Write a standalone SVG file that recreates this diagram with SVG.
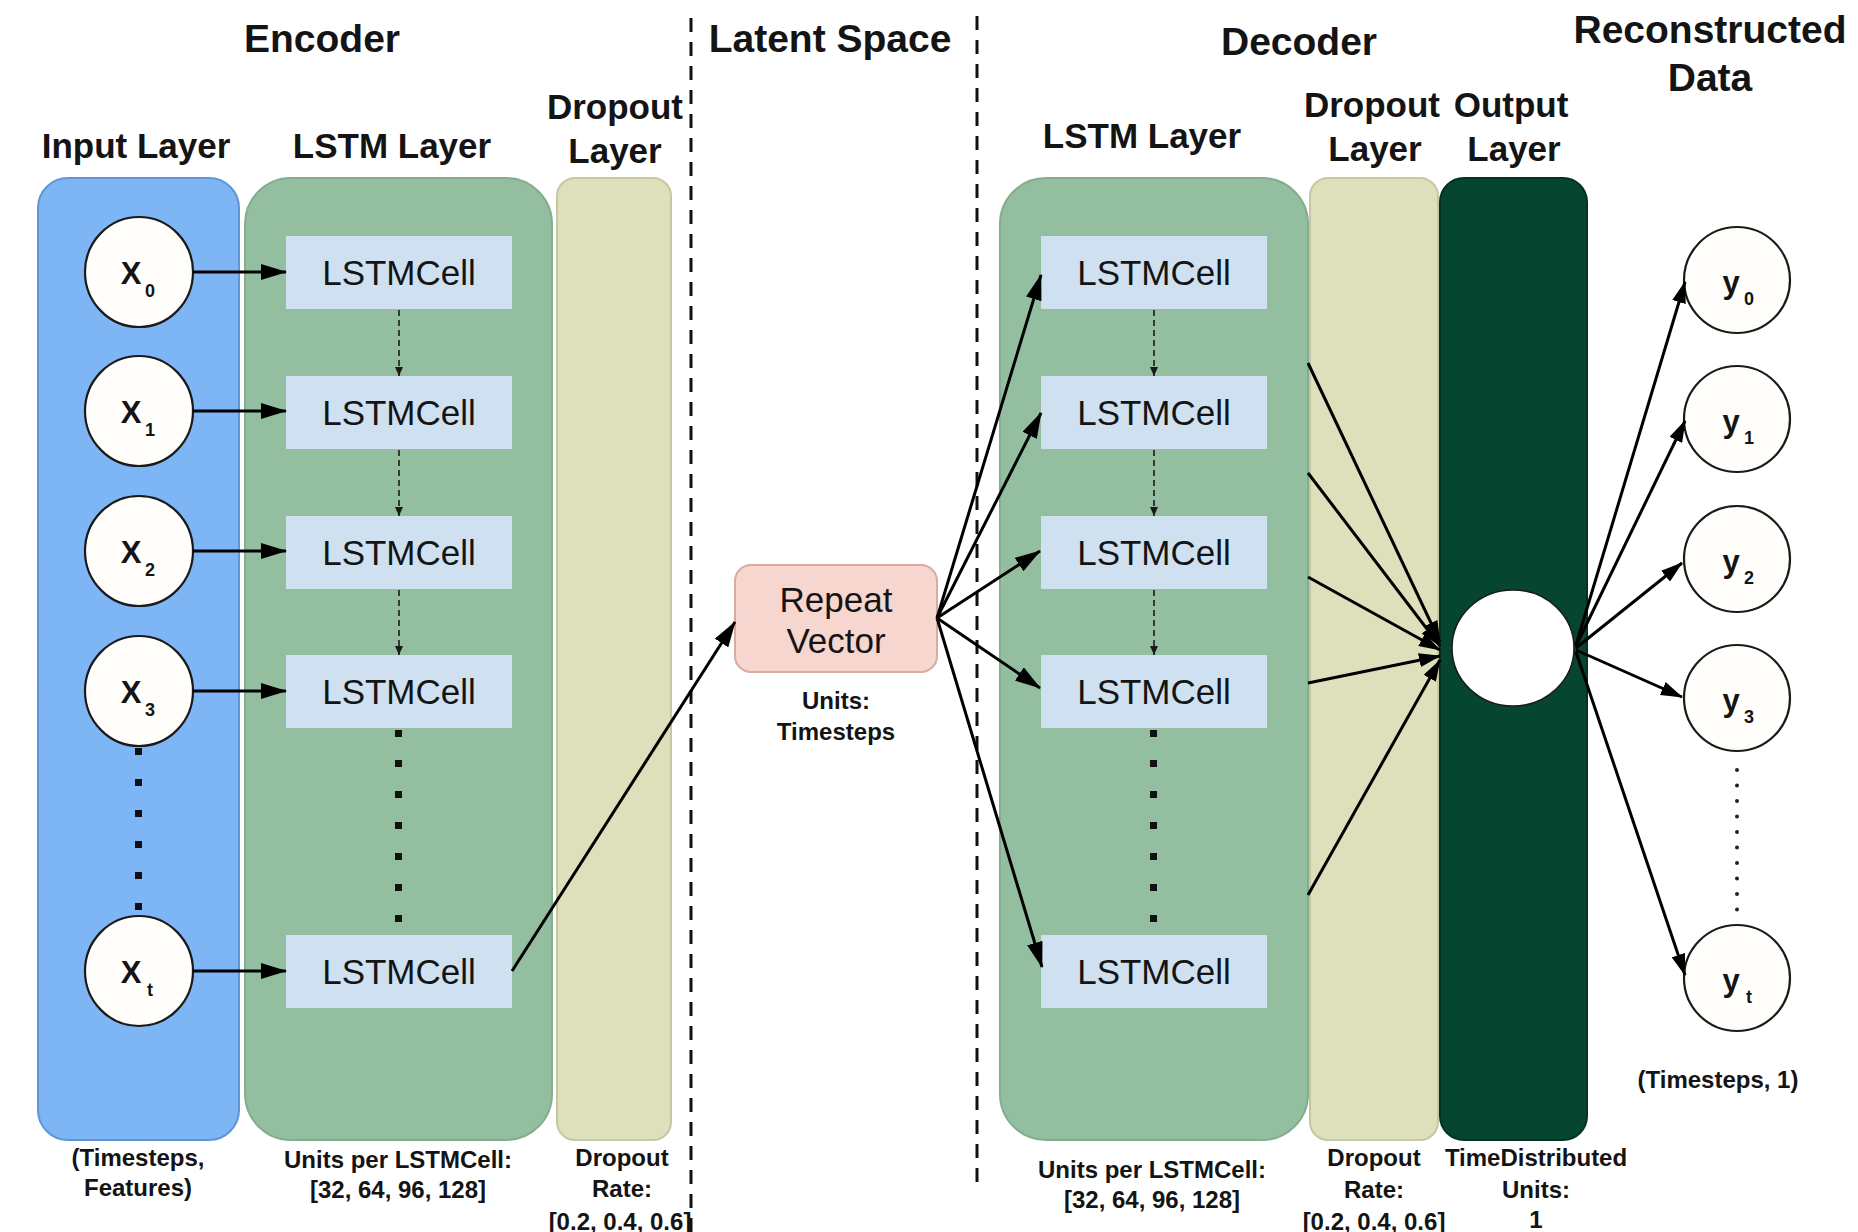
<svg xmlns="http://www.w3.org/2000/svg" width="1858" height="1232" viewBox="0 0 1858 1232">
<style>
.t{font-family:"Liberation Sans",Arial,Helvetica,sans-serif;fill:#141414;text-anchor:middle}
.title{font-size:39px;font-weight:bold}
.lbl{font-size:35px;font-weight:bold}
.cap{font-size:24px;font-weight:bold}
.celltxt{font-size:35px}
.cell{fill:#cfe1f1}
.node{fill:#fffefa;stroke:#1a1a1a;stroke-width:2.2}
.xl{font-size:31px;font-weight:bold}
.sub{font-size:18px;font-weight:bold}
.arrow{stroke:#000;stroke-width:3;fill:none}
.dash{stroke:#1a1a1a;stroke-width:1.6;stroke-dasharray:6 4;fill:none}
.sep{stroke:#111;stroke-width:3;stroke-dasharray:14 10;fill:none}
.dot{fill:#111}
</style>
<defs>
<marker id="ah" viewBox="0 0 26 16" refX="25" refY="8" markerWidth="26" markerHeight="16" markerUnits="userSpaceOnUse" orient="auto"><path d="M0,0 L26,8 L0,16 z" fill="#000"/></marker>
<marker id="ahm" viewBox="0 0 22 14" refX="21" refY="7" markerWidth="22" markerHeight="14" markerUnits="userSpaceOnUse" orient="auto"><path d="M0,0 L22,7 L0,14 z" fill="#000"/></marker>
<marker id="ahs" viewBox="0 0 9 8" refX="9" refY="4" markerWidth="9" markerHeight="8" markerUnits="userSpaceOnUse" orient="auto"><path d="M0,0 L9,4 L0,8 z" fill="#1a1a1a"/></marker>
</defs>
<rect width="1858" height="1232" fill="#ffffff"/>

<g id="titles">
<text class="t title" x="322" y="52">Encoder</text>
<text class="t title" x="830" y="52">Latent Space</text>
<text class="t title" x="1299" y="55">Decoder</text>
<text class="t title" x="1710" y="43">Reconstructed</text>
<text class="t title" x="1710" y="91">Data</text>
</g>

<g id="separators">
<line class="sep" x1="691" y1="18" x2="691" y2="1232"/>
<line class="sep" x1="977" y1="16" x2="977" y2="1192"/>
</g>

<g id="input-layer">
<rect x="38" y="178" width="201" height="962" rx="30" fill="#7eb5f4" stroke="#5f96d8" stroke-width="2"/>
<text class="t lbl" x="136" y="158">Input Layer</text>
<text class="t cap" x="138" y="1166">(Timesteps,</text>
<text class="t cap" x="138" y="1196">Features)</text>
</g>

<g id="enc-lstm-layer">
<rect x="245" y="178" width="307" height="962" rx="46" fill="#93bfa0" stroke="#82ad8f" stroke-width="2"/>
<text class="t lbl" x="392" y="158">LSTM Layer</text>
<text class="t cap" x="398" y="1168">Units per LSTMCell:</text>
<text class="t cap" x="398" y="1198">[32, 64, 96, 128]</text>
</g>

<g id="enc-dropout-layer">
<rect x="557" y="178" width="114" height="962" rx="18" fill="#dde0ba" stroke="#c5c8a2" stroke-width="2"/>
<text class="t lbl" x="615" y="119">Dropout</text>
<text class="t lbl" x="615" y="163">Layer</text>
<text class="t cap" x="622" y="1166">Dropout</text>
<text class="t cap" x="622" y="1197">Rate:</text>
<text class="t cap" x="620" y="1230">[0.2, 0.4, 0.6]</text>
</g>

<g id="x0"><ellipse class="node" cx="139" cy="272" rx="54" ry="55"/><text class="t xl" x="131" y="284">X</text><text class="t sub" x="150" y="297">0</text></g>
<g id="x1"><ellipse class="node" cx="139" cy="411" rx="54" ry="55"/><text class="t xl" x="131" y="423">X</text><text class="t sub" x="150" y="436">1</text></g>
<g id="x2"><ellipse class="node" cx="139" cy="551" rx="54" ry="55"/><text class="t xl" x="131" y="563">X</text><text class="t sub" x="150" y="576">2</text></g>
<g id="x3"><ellipse class="node" cx="139" cy="691" rx="54" ry="55"/><text class="t xl" x="131" y="703">X</text><text class="t sub" x="150" y="716">3</text></g>
<g id="xt"><ellipse class="node" cx="139" cy="971" rx="54" ry="55"/><text class="t xl" x="131" y="983">X</text><text class="t sub" x="150" y="996">t</text></g>
<g id="x-dots">
<rect class="dot" x="135" y="748" width="7" height="7"/>
<rect class="dot" x="135" y="779" width="7" height="7"/>
<rect class="dot" x="135" y="810" width="7" height="7"/>
<rect class="dot" x="135" y="841" width="7" height="7"/>
<rect class="dot" x="135" y="872" width="7" height="7"/>
<rect class="dot" x="135" y="903" width="7" height="7"/>
</g>

<g id="enc-cell-0"><rect class="cell" x="286" y="236" width="226" height="73"/><text class="t celltxt" x="399" y="285">LSTMCell</text></g>
<g id="enc-cell-1"><rect class="cell" x="286" y="376" width="226" height="73"/><text class="t celltxt" x="399" y="425">LSTMCell</text></g>
<g id="enc-cell-2"><rect class="cell" x="286" y="516" width="226" height="73"/><text class="t celltxt" x="399" y="565">LSTMCell</text></g>
<g id="enc-cell-3"><rect class="cell" x="286" y="655" width="226" height="73"/><text class="t celltxt" x="399" y="704">LSTMCell</text></g>
<g id="enc-cell-t"><rect class="cell" x="286" y="935" width="226" height="73"/><text class="t celltxt" x="399" y="984">LSTMCell</text></g>
<g id="enc-dots">
<rect class="dot" x="395" y="730" width="7" height="7"/>
<rect class="dot" x="395" y="760" width="7" height="7"/>
<rect class="dot" x="395" y="791" width="7" height="7"/>
<rect class="dot" x="395" y="822" width="7" height="7"/>
<rect class="dot" x="395" y="853" width="7" height="7"/>
<rect class="dot" x="395" y="884" width="7" height="7"/>
<rect class="dot" x="395" y="915" width="7" height="7"/>
</g>

<g id="repeat-vector">
<rect x="735" y="565" width="202" height="107" rx="16" fill="#f6d6cf" stroke="#d8aca3" stroke-width="2"/>
<text class="t celltxt" x="836" y="612">Repeat</text>
<text class="t celltxt" x="836" y="653">Vector</text>
<text class="t cap" x="836" y="709">Units:</text>
<text class="t cap" x="836" y="740">Timesteps</text>
</g>

<g id="dec-lstm-layer">
<rect x="1000" y="178" width="308" height="962" rx="46" fill="#93bfa0" stroke="#82ad8f" stroke-width="2"/>
<text class="t lbl" x="1142" y="148">LSTM Layer</text>
<text class="t cap" x="1152" y="1178">Units per LSTMCell:</text>
<text class="t cap" x="1152" y="1208">[32, 64, 96, 128]</text>
</g>
<g id="dec-dropout-layer">
<rect x="1310" y="178" width="128" height="962" rx="18" fill="#dde0ba" stroke="#c5c8a2" stroke-width="2"/>
<text class="t lbl" x="1372" y="117">Dropout</text>
<text class="t lbl" x="1375" y="161">Layer</text>
<text class="t cap" x="1374" y="1166">Dropout</text>
<text class="t cap" x="1374" y="1198">Rate:</text>
<text class="t cap" x="1374" y="1230">[0.2, 0.4, 0.6]</text>
</g>
<g id="output-layer">
<rect x="1440" y="178" width="147" height="962" rx="24" fill="#06452f" stroke="#043323" stroke-width="2"/>
<text class="t lbl" x="1511" y="117">Output</text>
<text class="t lbl" x="1514" y="161">Layer</text>
<text class="t cap" x="1536" y="1166">TimeDistributed</text>
<text class="t cap" x="1536" y="1198">Units:</text>
<text class="t cap" x="1536" y="1228">1</text>
</g>
<g id="output-node"><ellipse cx="1513" cy="648" rx="61" ry="58" fill="#ffffff" stroke="#1a1a1a" stroke-width="1.5"/></g>

<g id="dec-cell-0"><rect class="cell" x="1041" y="236" width="226" height="73"/><text class="t celltxt" x="1154" y="285">LSTMCell</text></g>
<g id="dec-cell-1"><rect class="cell" x="1041" y="376" width="226" height="73"/><text class="t celltxt" x="1154" y="425">LSTMCell</text></g>
<g id="dec-cell-2"><rect class="cell" x="1041" y="516" width="226" height="73"/><text class="t celltxt" x="1154" y="565">LSTMCell</text></g>
<g id="dec-cell-3"><rect class="cell" x="1041" y="655" width="226" height="73"/><text class="t celltxt" x="1154" y="704">LSTMCell</text></g>
<g id="dec-cell-t"><rect class="cell" x="1041" y="935" width="226" height="73"/><text class="t celltxt" x="1154" y="984">LSTMCell</text></g>
<g id="dec-dots">
<rect class="dot" x="1150" y="730" width="7" height="7"/>
<rect class="dot" x="1150" y="760" width="7" height="7"/>
<rect class="dot" x="1150" y="791" width="7" height="7"/>
<rect class="dot" x="1150" y="822" width="7" height="7"/>
<rect class="dot" x="1150" y="853" width="7" height="7"/>
<rect class="dot" x="1150" y="884" width="7" height="7"/>
<rect class="dot" x="1150" y="915" width="7" height="7"/>
</g>

<g id="y0"><circle class="node" cx="1737" cy="280" r="53"/><text class="t xl" x="1731" y="293">y</text><text class="t sub" x="1749" y="305">0</text></g>
<g id="y1"><circle class="node" cx="1737" cy="419" r="53"/><text class="t xl" x="1731" y="432">y</text><text class="t sub" x="1749" y="444">1</text></g>
<g id="y2"><circle class="node" cx="1737" cy="559" r="53"/><text class="t xl" x="1731" y="572">y</text><text class="t sub" x="1749" y="584">2</text></g>
<g id="y3"><circle class="node" cx="1737" cy="698" r="53"/><text class="t xl" x="1731" y="711">y</text><text class="t sub" x="1749" y="723">3</text></g>
<g id="yt"><circle class="node" cx="1737" cy="978" r="53"/><text class="t xl" x="1731" y="991">y</text><text class="t sub" x="1749" y="1003">t</text></g>
<g id="y-dots"><line x1="1737" y1="770" x2="1737" y2="910" stroke="#222" stroke-width="4" stroke-linecap="round" stroke-dasharray="0 15.5"/></g>
<text class="t cap" x="1718" y="1088">(Timesteps, 1)</text>

<g id="connectors">
<line class="arrow" x1="193" y1="272" x2="286" y2="272" marker-end="url(#ah)"/>
<line class="arrow" x1="193" y1="411" x2="286" y2="411" marker-end="url(#ah)"/>
<line class="arrow" x1="193" y1="551" x2="286" y2="551" marker-end="url(#ah)"/>
<line class="arrow" x1="193" y1="691" x2="286" y2="691" marker-end="url(#ah)"/>
<line class="arrow" x1="193" y1="971" x2="286" y2="971" marker-end="url(#ah)"/>

<line class="dash" x1="399" y1="310" x2="399" y2="376" marker-end="url(#ahs)"/>
<line class="dash" x1="399" y1="450" x2="399" y2="516" marker-end="url(#ahs)"/>
<line class="dash" x1="399" y1="590" x2="399" y2="655" marker-end="url(#ahs)"/>
<line class="dash" x1="1154" y1="310" x2="1154" y2="376" marker-end="url(#ahs)"/>
<line class="dash" x1="1154" y1="450" x2="1154" y2="516" marker-end="url(#ahs)"/>
<line class="dash" x1="1154" y1="590" x2="1154" y2="655" marker-end="url(#ahs)"/>

<line class="arrow" x1="512" y1="971" x2="735" y2="622" marker-end="url(#ah)"/>

<line class="arrow" x1="937" y1="618" x2="1041" y2="275" marker-end="url(#ah)"/>
<line class="arrow" x1="937" y1="618" x2="1041" y2="413" marker-end="url(#ah)"/>
<line class="arrow" x1="937" y1="618" x2="1040" y2="551" marker-end="url(#ah)"/>
<line class="arrow" x1="937" y1="618" x2="1040" y2="688" marker-end="url(#ah)"/>
<line class="arrow" x1="937" y1="618" x2="1042" y2="967" marker-end="url(#ah)"/>

<line class="arrow" x1="1308" y1="363" x2="1440" y2="642" marker-end="url(#ahm)"/>
<line class="arrow" x1="1308" y1="473" x2="1440" y2="646" marker-end="url(#ahm)"/>
<line class="arrow" x1="1308" y1="577" x2="1440" y2="650" marker-end="url(#ahm)"/>
<line class="arrow" x1="1308" y1="683" x2="1440" y2="656" marker-end="url(#ahm)"/>
<line class="arrow" x1="1308" y1="895" x2="1440" y2="660" marker-end="url(#ahm)"/>

<line class="arrow" x1="1576" y1="645" x2="1685" y2="282" marker-end="url(#ahm)"/>
<line class="arrow" x1="1576" y1="646" x2="1685" y2="421" marker-end="url(#ahm)"/>
<line class="arrow" x1="1576" y1="648" x2="1682" y2="563" marker-end="url(#ahm)"/>
<line class="arrow" x1="1576" y1="650" x2="1682" y2="697" marker-end="url(#ahm)"/>
<line class="arrow" x1="1576" y1="652" x2="1685" y2="975" marker-end="url(#ahm)"/>
</g>
</svg>
